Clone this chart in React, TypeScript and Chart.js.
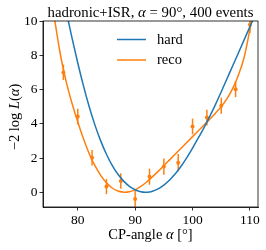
import { useEffect, useRef } from 'react';
import { Chart, registerables } from 'chart.js';

Chart.register(...registerables);

const FONT = '"Liberation Serif", "DejaVu Serif", serif';

const xTicks = [80, 90, 100, 110];
const yTicks = [0, 2, 4, 6, 8, 10];

const hardX = [78, 79, 80, 81, 82, 83, 84, 85, 86, 87, 88, 89, 90, 91, 91.7, 92.5, 93, 94, 95, 96, 97, 98, 99, 100, 101, 102, 103, 104, 105, 106, 107, 108, 109, 110, 111];
const hardY = [10.56, 9.01, 7.56, 6.21, 4.99, 3.92, 3.0, 2.22, 1.57, 1.05, 0.65, 0.35, 0.15, 0.03, 0.0, 0.02, 0.06, 0.2, 0.42, 0.72, 1.08, 1.52, 2.02, 2.58, 3.17, 3.78, 4.43, 5.13, 5.87, 6.63, 7.39, 8.15, 8.91, 9.67, 10.43];

const recoX = [75.5, 76, 77, 78, 79, 80, 81, 82, 83, 84, 85, 86, 87, 88.2, 89, 90, 91, 92, 93, 94, 95, 96, 97, 98, 99, 100, 101, 102, 103, 104, 105, 106, 107, 108, 109, 110, 110.5];
const recoY = [11.2, 10.05, 8.0, 6.45, 5.2, 4.12, 3.12, 2.25, 1.55, 0.99, 0.56, 0.25, 0.07, 0.0, 0.03, 0.14, 0.34, 0.6, 0.9, 1.22, 1.55, 1.89, 2.23, 2.57, 2.91, 3.25, 3.59, 3.93, 4.27, 4.62, 5.0, 5.47, 6.07, 6.85, 7.9, 9.55, 10.6];

const pointX = [77.5, 80, 82.5, 85, 87.5, 90, 92.5, 95, 97.5, 100, 102.5, 105, 107.5, 110];
const pointY = [7.0, 4.42, 2.02, 0.33, 0.66, -0.39, 0.91, 1.5, 1.73, 3.84, 4.36, 5.05, 6.02, 9.78];
const pointErr = [0.45, 0.46, 0.45, 0.44, 0.45, 0.46, 0.47, 0.47, 0.5, 0.46, 0.46, 0.47, 0.47, 0.48];

const BLUE = '#1f77b4';
const ORANGE = '#ff7f0e';

type Seg = { t: string; i?: boolean };

function drawRich(ctx: CanvasRenderingContext2D, segs: Seg[], x: number, y: number, size: number, align: 'center' | 'left') {
  const fontFor = (s: Seg) => `${s.i ? 'italic ' : ''}${size}px ${FONT}`;
  const widths = segs.map((s) => {
    ctx.font = fontFor(s);
    return ctx.measureText(s.t).width;
  });
  const total = widths.reduce((a, b) => a + b, 0);
  let cx = align === 'center' ? x - total / 2 : x;
  ctx.textAlign = 'left';
  ctx.textBaseline = 'alphabetic';
  segs.forEach((s, k) => {
    ctx.font = fontFor(s);
    ctx.fillText(s.t, cx, y);
    cx += widths[k];
  });
}

const decorPlugin = {
  id: 'decor',
  beforeDatasetsDraw(chart: any) {
    const { ctx, chartArea, scales } = chart;
    ctx.save();
    ctx.beginPath();
    ctx.rect(chartArea.left, chartArea.top, chartArea.right - chartArea.left, chartArea.bottom - chartArea.top);
    ctx.clip();
    ctx.strokeStyle = ORANGE;
    ctx.lineWidth = 1.5;
    pointX.forEach((xv, k) => {
      const px = scales.x.getPixelForValue(xv);
      const y1 = scales.y.getPixelForValue(pointY[k] - pointErr[k]);
      const y2 = scales.y.getPixelForValue(pointY[k] + pointErr[k]);
      ctx.beginPath();
      ctx.moveTo(px, y1);
      ctx.lineTo(px, y2);
      ctx.stroke();
    });
    ctx.restore();
  },
  afterDraw(chart: any) {
    const { ctx, chartArea } = chart;
    const { left, right, top, bottom } = chartArea;
    const cx = (left + right) / 2;
    ctx.save();
    ctx.strokeStyle = '#000';
    ctx.lineWidth = 0.8;
    ctx.strokeRect(left, top, right - left, bottom - top);
    ctx.fillStyle = '#000';
    drawRich(ctx, [{ t: 'hadronic+ISR, ' }, { t: 'α', i: true }, { t: ' = 90°, 400 events' }], cx, 16.5, 14.8, 'center');
    drawRich(ctx, [{ t: 'CP-angle ' }, { t: 'α', i: true }, { t: ' [°]' }], cx, 239, 14.5, 'center');
    ctx.save();
    ctx.translate(19, (top + bottom) / 2 + 3);
    ctx.rotate(-Math.PI / 2);
    drawRich(ctx, [{ t: '−2 log ' }, { t: 'L', i: true }, { t: '(' }, { t: 'α', i: true }, { t: ')' }], 0, 0, 14.5, 'center');
    ctx.restore();
    // legend
    const lx0 = left + 74;
    const lx1 = left + 103;
    const entries = [
      { label: 'hard', color: BLUE, y: top + 18.5 },
      { label: 'reco', color: ORANGE, y: top + 39 },
    ];
    entries.forEach((e) => {
      ctx.strokeStyle = e.color;
      ctx.lineWidth = 1.5;
      ctx.beginPath();
      ctx.moveTo(lx0, e.y);
      ctx.lineTo(lx1, e.y);
      ctx.stroke();
      ctx.fillStyle = '#000';
      drawRich(ctx, [{ t: e.label }], left + 114, e.y + 4, 14.5, 'left');
    });
    ctx.restore();
  },
};

export default function App() {
  const ref = useRef<HTMLCanvasElement | null>(null);
  useEffect(() => {
    document.body.style.margin = '0';
    if (!ref.current) return;
    const chart = new Chart(ref.current, {
      type: 'scatter',
      data: {
        datasets: [
          {
            label: 'hard',
            data: hardX.map((x, k) => ({ x, y: hardY[k] })),
            showLine: true,
            borderColor: BLUE,
            backgroundColor: BLUE,
            borderWidth: 1.5,
            pointRadius: 0,
            cubicInterpolationMode: 'monotone',
          },
          {
            label: 'reco',
            data: recoX.map((x, k) => ({ x, y: recoY[k] })),
            showLine: true,
            borderColor: ORANGE,
            backgroundColor: ORANGE,
            borderWidth: 1.5,
            pointRadius: 0,
            cubicInterpolationMode: 'monotone',
          },
          {
            label: 'reco points',
            data: pointX.map((x, k) => ({ x, y: pointY[k] })),
            showLine: false,
            borderColor: ORANGE,
            backgroundColor: ORANGE,
            pointRadius: 2,
            pointBorderWidth: 0,
          },
        ],
      },
      options: {
        responsive: false,
        animation: false,
        devicePixelRatio: 1,
        layout: { padding: { top: 21, right: 8, left: 0, bottom: 0 } },
        plugins: { legend: { display: false }, title: { display: false }, tooltip: { enabled: false } },
        scales: {
          x: {
            type: 'linear',
            min: 73.95,
            max: 111.4,
            afterBuildTicks: (s: any) => {
              s.ticks = xTicks.map((v) => ({ value: v }));
            },
            afterFit: (s: any) => {
              s.height = 43;
            },
            grid: { drawOnChartArea: false, drawTicks: true, tickLength: 3.5, tickColor: '#000', tickWidth: 0.8 },
            border: { display: true, color: '#000', width: 0.8 },
            ticks: { color: '#000', font: { family: FONT, size: 13.5 }, padding: 2, maxRotation: 0 },
          },
          y: {
            type: 'linear',
            min: -0.86,
            max: 10,
            afterBuildTicks: (s: any) => {
              s.ticks = yTicks.map((v) => ({ value: v }));
            },
            afterFit: (s: any) => {
              s.width = 43;
            },
            grid: { drawOnChartArea: false, drawTicks: true, tickLength: 3.5, tickColor: '#000', tickWidth: 0.8 },
            border: { display: true, color: '#000', width: 0.8 },
            ticks: { color: '#000', font: { family: FONT, size: 13.5 }, padding: 2 },
          },
        },
      },
      plugins: [decorPlugin],
    } as any);
    return () => chart.destroy();
  }, []);
  return <canvas ref={ref} width={266} height={250} style={{ display: 'block' }} />;
}
